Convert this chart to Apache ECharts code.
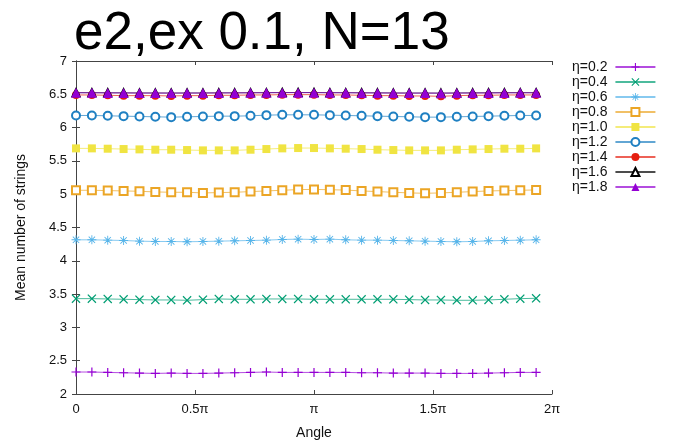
<!DOCTYPE html>
<html>
<head>
<meta charset="utf-8">
<title>Mean number of strings vs angle</title>
<script src="https://cdn.jsdelivr.net/npm/echarts@6/dist/echarts.min.js"></script>
<style>
  html, body { margin: 0; padding: 0; background: #fff; }
  #chart { width: 677px; height: 445px; }
</style>
</head>
<body>
<div id="chart"></div>
<script>
// Sampled angles, in units of pi (30 steps over one turn, last one before 2pi)
const anglesInPi = [0, 0.0667, 0.1333, 0.2, 0.2667, 0.3333, 0.4, 0.4667, 0.5333, 0.6,
  0.6667, 0.7333, 0.8, 0.8667, 0.9333, 1, 1.0667, 1.1333, 1.2, 1.2667,
  1.3333, 1.4, 1.4667, 1.5333, 1.6, 1.6667, 1.7333, 1.8, 1.8667, 1.9333];

const etaLabels = ['η=0.2', 'η=0.4', 'η=0.6', 'η=0.8', 'η=1.0', 'η=1.2', 'η=1.4', 'η=1.6', 'η=1.8'];

// Mean number of strings for each eta
const eta02 = [2.330, 2.330, 2.324, 2.319, 2.314, 2.309, 2.314, 2.309, 2.309, 2.314,
  2.319, 2.324, 2.330, 2.324, 2.324, 2.324, 2.324, 2.324, 2.319, 2.319,
  2.314, 2.314, 2.314, 2.309, 2.309, 2.309, 2.314, 2.319, 2.324, 2.324];
const eta04 = [3.432, 3.432, 3.427, 3.422, 3.417, 3.412, 3.412, 3.407, 3.417, 3.427,
  3.422, 3.422, 3.427, 3.427, 3.427, 3.422, 3.422, 3.422, 3.422, 3.422,
  3.422, 3.417, 3.412, 3.412, 3.407, 3.407, 3.412, 3.422, 3.432, 3.437];
const eta06 = [4.315, 4.315, 4.310, 4.305, 4.295, 4.290, 4.290, 4.286, 4.290, 4.295,
  4.300, 4.305, 4.310, 4.320, 4.325, 4.320, 4.325, 4.315, 4.310, 4.310,
  4.305, 4.300, 4.295, 4.290, 4.286, 4.290, 4.300, 4.305, 4.310, 4.315];
const eta08 = [5.059, 5.059, 5.054, 5.049, 5.044, 5.034, 5.029, 5.029, 5.019, 5.024,
  5.029, 5.039, 5.049, 5.059, 5.069, 5.072, 5.067, 5.062, 5.049, 5.039,
  5.029, 5.019, 5.014, 5.019, 5.029, 5.039, 5.049, 5.054, 5.059, 5.064];
const eta10 = [5.688, 5.688, 5.683, 5.678, 5.673, 5.668, 5.668, 5.663, 5.658, 5.658,
  5.658, 5.668, 5.678, 5.688, 5.693, 5.693, 5.688, 5.683, 5.678, 5.668,
  5.663, 5.658, 5.658, 5.658, 5.668, 5.673, 5.678, 5.683, 5.683, 5.688];
const eta12 = [6.182, 6.182, 6.177, 6.172, 6.167, 6.162, 6.157, 6.162, 6.167, 6.172,
  6.172, 6.177, 6.187, 6.192, 6.192, 6.192, 6.187, 6.182, 6.177, 6.172,
  6.167, 6.162, 6.157, 6.157, 6.162, 6.167, 6.172, 6.177, 6.182, 6.182];
const eta14 = [6.490, 6.490, 6.485, 6.480, 6.480, 6.480, 6.475, 6.480, 6.480, 6.485,
  6.485, 6.490, 6.490, 6.495, 6.495, 6.495, 6.490, 6.490, 6.485, 6.480,
  6.480, 6.475, 6.475, 6.470, 6.480, 6.485, 6.485, 6.490, 6.490, 6.490];
const eta16 = [6.525, 6.525, 6.523, 6.522, 6.520, 6.520, 6.519, 6.520, 6.520, 6.522,
  6.522, 6.524, 6.525, 6.527, 6.527, 6.527, 6.525, 6.525, 6.523, 6.522,
  6.520, 6.519, 6.519, 6.518, 6.520, 6.522, 6.523, 6.525, 6.525, 6.525];
const eta18 = [6.522, 6.522, 6.521, 6.520, 6.519, 6.518, 6.518, 6.518, 6.519, 6.520,
  6.521, 6.522, 6.523, 6.524, 6.524, 6.524, 6.523, 6.522, 6.521, 6.520,
  6.519, 6.518, 6.518, 6.517, 6.518, 6.519, 6.520, 6.521, 6.522, 6.522];

const yTicks = { min: 2, max: 7, step: 0.5 };
const xTickLabels = { 0: '0', 0.5: '0.5π', 1: 'π', 1.5: '1.5π', 2: '2π' };

// Thin cross glyphs built as filled outlines, one sub-path per rotation
function crossPath(rotationsDeg, halfThick) {
  const L = 6, a = halfThick;
  const base = [[-a, L], [a, L], [a, a], [L, a], [L, -a], [a, -a], [a, -L], [-a, -L], [-a, -a], [-L, -a], [-L, a], [-a, a]];
  let d = '';
  rotationsDeg.forEach(function (deg) {
    const r = deg * Math.PI / 180, c = Math.cos(r), s = Math.sin(r);
    base.forEach(function (p, i) {
      const x = (p[0] * c - p[1] * s + 7).toFixed(3);
      const y = (p[0] * s + p[1] * c + 7).toFixed(3);
      d += (i === 0 ? 'M' : 'L') + x + ',' + y;
    });
    d += 'Z';
  });
  return 'path://' + d;
}
const plusSym = crossPath([0], 0.8);
const xSym = crossPath([45], 0.65);
const starSym = crossPath([0, 45], 0.6);

const seriesValues = [eta02, eta04, eta06, eta08, eta10, eta12, eta14, eta16, eta18];
const seriesStyle = [
  { color: '#9400d3', symbol: plusSym, size: 9, border: 0 },
  { color: '#009e73', symbol: xSym, size: 9, border: 0 },
  { color: '#56b4e9', symbol: starSym, size: 9, border: 0 },
  { color: '#eba525', symbol: 'emptyRect', size: 8, border: 1 },
  { color: '#f0e442', symbol: 'rect', size: 8, border: 0 },
  { color: '#1f80c2', symbol: 'emptyCircle', size: 8, border: 1 },
  { color: '#e51e10', symbol: 'circle', size: 8, border: 0 },
  { color: '#000000', symbol: 'emptyTriangle', size: 7, border: 0.8 },
  { color: '#9400d3', symbol: 'triangle', size: 10, border: 0 }
];

const series = seriesValues.map(function (vals, i) {
  const st = seriesStyle[i];
  return {
    name: etaLabels[i],
    type: 'line',
    xAxisIndex: 0,
    yAxisIndex: 0,
    data: anglesInPi.map(function (x, k) { return [x, vals[k]]; }),
    symbol: st.symbol,
    symbolSize: st.size,
    showAllSymbol: true,
    color: st.color,
    itemStyle: { color: st.color, borderColor: st.color, borderWidth: st.border },
    lineStyle: { color: st.color, width: 1, opacity: 0.7 },
    emphasis: { disabled: true },
    z: 2 + i
  };
});

const fontFam = '"Liberation Sans", Arial, Helvetica, sans-serif';
const axisLineStyle = { color: '#444', width: 1 };
const tickStyle = { show: true, inside: true, length: 4, lineStyle: { color: '#444', width: 1 } };

const chart = echarts.init(document.getElementById('chart'), null, { renderer: 'canvas' });
chart.setOption({
  animation: false,
  backgroundColor: '#fff',
  textStyle: { fontFamily: fontFam },
  title: {
    text: 'e2,ex 0.1, N=13',
    left: 74,
    top: 8,
    padding: 0,
    textStyle: { fontSize: 53, fontWeight: 'normal', color: '#000', fontFamily: fontFam }
  },
  grid: { left: 76, top: 61, width: 476, height: 334, containLabel: false },
  legend: {
    orient: 'vertical',
    left: 567,
    top: 55,
    align: 'right',
    itemWidth: 40,
    itemHeight: 10,
    itemGap: 1,
    textStyle: { fontSize: 14, color: '#111', lineHeight: 14, padding: [0, 3, 0, 0], fontFamily: fontFam },
    data: etaLabels
  },
  xAxis: [
    {
      type: 'value', position: 'bottom', min: 0, max: 2, interval: 0.5,
      axisLine: { show: true, lineStyle: axisLineStyle },
      axisTick: tickStyle,
      splitLine: { show: false },
      axisLabel: {
        margin: 9, fontSize: 13, color: '#111',
        formatter: function (v) { return xTickLabels[v] !== undefined ? xTickLabels[v] : ''; }
      },
      name: 'Angle', nameLocation: 'middle', nameGap: 32,
      nameTextStyle: { fontSize: 14, color: '#111' }
    },
    {
      type: 'value', position: 'top', min: 0, max: 2, interval: 0.5,
      axisLine: { show: true, lineStyle: axisLineStyle },
      axisTick: tickStyle,
      splitLine: { show: false },
      axisLabel: { show: false }
    }
  ],
  yAxis: [
    {
      type: 'value', position: 'left', min: yTicks.min, max: yTicks.max, interval: yTicks.step,
      axisLine: { show: true, lineStyle: axisLineStyle },
      axisTick: tickStyle,
      splitLine: { show: false },
      axisLabel: { margin: 9, fontSize: 13, color: '#111' },
      name: 'Mean number of strings', nameLocation: 'middle', nameGap: 48,
      nameTextStyle: { fontSize: 14, color: '#111' }
    },
    {
      type: 'value', position: 'right', min: yTicks.min, max: yTicks.max, interval: yTicks.step,
      axisLine: { show: true, lineStyle: axisLineStyle },
      axisTick: tickStyle,
      splitLine: { show: false },
      axisLabel: { show: false }
    }
  ],
  series: series
});
</script>
</body>
</html>
